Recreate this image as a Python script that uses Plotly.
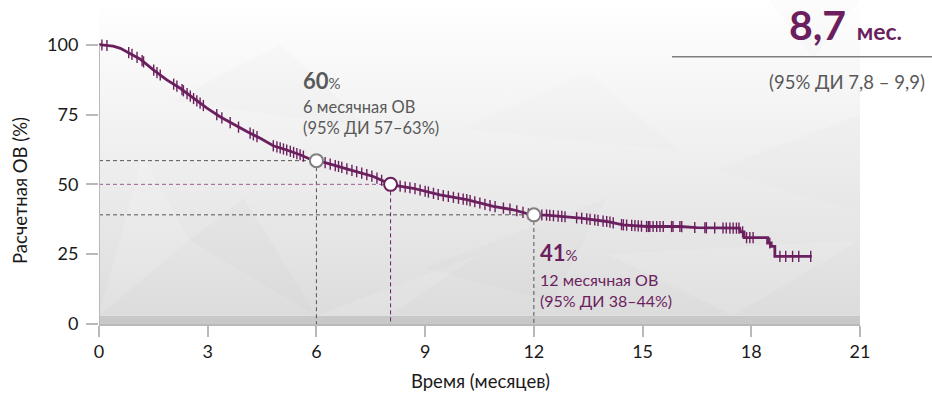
import numpy as np
import plotly.graph_objects as go

# Kaplan–Meier estimate of overall survival: time (months) and survival (%)
km_months = [0.0, 0.39, 0.59, 0.86, 1.14, 1.50, 1.87, 2.24, 2.60, 2.98,
             3.34, 3.70, 4.08, 4.45, 4.81, 5.18, 5.55, 5.83, 6.29, 6.93,
             7.57, 8.08, 8.67, 9.41, 10.15, 10.88, 11.43, 11.94, 12.35, 13.29,
             14.01, 14.46, 15.11, 16.03, 16.49, 17.68, 17.70, 17.80, 17.80, 18.45,
             18.45, 18.55, 18.55, 18.65, 18.65, 19.67]
km_survival = [100.0, 99.5, 98.7, 96.9, 94.8, 91.0, 87.4, 84.4, 80.8, 77.3,
               74.2, 71.5, 68.9, 66.5, 63.8, 62.3, 60.6, 59.0, 57.6, 55.2,
               52.8, 49.8, 48.6, 46.2, 44.5, 42.1, 40.9, 39.1, 39.0, 37.9,
               36.7, 35.5, 34.9, 34.9, 34.5, 34.3, 33.0, 33.0, 30.9, 30.9,
               29.0, 29.0, 27.8, 27.8, 24.2, 24.2]

# Censored observations (months)
censor_months = [0.08, 0.22, 0.82, 0.91, 1.05, 1.19, 1.23, 1.51, 1.60, 1.69,
                 2.06, 2.15, 2.29, 2.33, 2.43, 2.52, 2.61, 2.70, 2.79, 2.88,
                 3.25, 3.39, 3.62, 3.85, 4.17, 4.26, 4.36, 4.81, 4.91, 5.00,
                 5.09, 5.18, 5.28, 5.37, 5.46, 5.55, 5.64, 6.10, 6.24, 6.38,
                 6.52, 6.61, 6.70, 6.84, 6.98, 7.11, 7.25, 7.39, 7.53, 7.67,
                 7.80, 8.31, 8.45, 8.58, 8.72, 8.86, 9.00, 9.09, 9.23, 9.36,
                 9.50, 9.64, 9.78, 9.92, 10.05, 10.15, 10.24, 10.37, 10.51, 10.65,
                 10.79, 10.93, 11.16, 11.34, 11.53, 11.70, 11.85, 12.08, 12.22, 12.35,
                 12.44, 12.54, 12.67, 12.77, 12.86, 13.18, 13.32, 13.46, 13.55, 13.68,
                 13.77, 13.91, 14.01, 14.10, 14.19, 14.42, 14.47, 14.56, 14.70, 14.79,
                 14.88, 14.97, 15.11, 15.16, 15.20, 15.29, 15.39, 15.48, 15.57, 15.80,
                 15.84, 16.03, 16.08, 16.44, 16.72, 16.76, 16.99, 17.22, 17.31, 17.41,
                 17.50, 17.59, 17.66, 17.76, 17.87, 17.96, 18.05, 18.51, 18.79, 18.95,
                 19.14, 19.31, 19.64]

# Landmark time points (months)
landmark_months = [6, 12]

x_ticks = [0, 3, 6, 9, 12, 15, 18, 21]
y_ticks = [0, 25, 50, 75, 100]

PURPLE = "#6b1f5e"
GREY_TXT = "#595959"
AXIS_GREY = "#b9b9b9"
FONT = "Lato"

W, H = 932, 395
ML, MR, MT, MB = 99, 72, 0, 71
PW, PH = W - ML - MR, H - MT - MB
Y_TOP = 116


def px(x):
    return (x - ML) / PW


def py(y):
    return (H - MB - y) / PH


t = np.asarray(km_months)
s = np.asarray(km_survival)


def surv_at(m):
    return float(np.interp(m, t, s))


landmark_surv = [surv_at(m) for m in landmark_months]
# Median: first time the curve reaches 50 %
idx = int(np.argmax(s <= 50))
median_month = float(np.interp(50, [s[idx], s[idx - 1]], [t[idx], t[idx - 1]]))

censor_y = [surv_at(m) for m in censor_months]

fig = go.Figure()

# Plot background: light vertical gradient
fig.add_trace(go.Scatter(
    x=[0, 21, 21, 0, 0], y=[3.0, 3.0, Y_TOP, Y_TOP, 3.0],
    mode="lines", fill="toself", line=dict(width=0),
    fillgradient=dict(type="vertical",
                      colorscale=[[0, "#dcdcdc"], [0.45, "#ededed"], [1, "#ffffff"]]),
    hoverinfo="skip", showlegend=False))

# Faint faceted pattern over the background
facets = [
    ([0, 2.5, 1.2], [3, 30, 60], "rgba(255,255,255,0.14)"),
    ([2.5, 6.0, 4.0], [30, 3, 45], "rgba(190,190,190,0.07)"),
    ([6.0, 10.5, 8.0], [3, 25, 3], "rgba(255,255,255,0.12)"),
    ([9.0, 14.0, 12.5], [20, 45, 8], "rgba(195,195,195,0.06)"),
    ([14.0, 17.5, 21.0], [25, 3, 30], "rgba(255,255,255,0.12)"),
    ([17.0, 21.0, 21.0], [55, 40, 75], "rgba(200,200,200,0.06)"),
    ([2.0, 5.0, 7.5], [80, 100, 70], "rgba(205,205,205,0.05)"),
    ([10.0, 13.5, 16.0], [70, 90, 62], "rgba(210,210,210,0.05)"),
    ([18.5, 19.7, 21.0], [116, 95, 116], "rgba(205,205,205,0.06)"),
]
for fx, fy, fc in facets:
    fig.add_trace(go.Scatter(x=fx + [fx[0]], y=fy + [fy[0]], mode="lines",
                             fill="toself", fillcolor=fc, line=dict(width=0),
                             hoverinfo="skip", showlegend=False))

# Guide lines for the landmarks and the median
for m, v in zip(landmark_months, landmark_surv):
    fig.add_trace(go.Scatter(x=[0, m, m], y=[v, v, 0], mode="lines",
                             line=dict(color="#555555", width=1, dash="4px,3px"),
                             hoverinfo="skip", showlegend=False))
fig.add_trace(go.Scatter(x=[0, median_month], y=[50, 50], mode="lines",
                         line=dict(color="#9a5c8c", width=1, dash="4px,3px"),
                         hoverinfo="skip", showlegend=False))
fig.add_trace(go.Scatter(x=[median_month, median_month], y=[50, 0], mode="lines",
                         line=dict(color=PURPLE, width=1, dash="4px,3px"),
                         hoverinfo="skip", showlegend=False))

# Survival curve
fig.add_trace(go.Scatter(x=km_months, y=km_survival, mode="lines",
                         line=dict(color=PURPLE, width=2.8),
                         hoverinfo="skip", showlegend=False))
# Censor marks
fig.add_trace(go.Scatter(x=censor_months, y=censor_y, mode="markers",
                         marker=dict(symbol="line-ns", size=8,
                                     line=dict(color=PURPLE, width=1.4)),
                         hoverinfo="skip", showlegend=False))

# Landmark and median circles
fig.add_trace(go.Scatter(x=landmark_months, y=landmark_surv, mode="markers",
                         marker=dict(size=13, color="white",
                                     line=dict(color="#808080", width=2)),
                         hoverinfo="skip", showlegend=False))
fig.add_trace(go.Scatter(x=[median_month], y=[50], mode="markers",
                         marker=dict(size=13, color="white",
                                     line=dict(color=PURPLE, width=2)),
                         hoverinfo="skip", showlegend=False))

shapes = [
    # darker strip along the time axis
    dict(type="rect", xref="x", yref="y", x0=0, x1=21, y0=0, y1=3.0,
         fillcolor="#c8c8c8", line=dict(width=0), layer="below"),
    # survival axis line
    dict(type="line", xref="x", yref="y", x0=0, x1=0, y0=0, y1=100,
         line=dict(color=AXIS_GREY, width=2), layer="above"),
    # rule under the median headline
    dict(type="line", xref="paper", yref="paper", x0=px(672), x1=px(932),
         y0=py(56.7), y1=py(56.7), line=dict(color="#7f7f7f", width=1.5)),
]


def note(x, y, text, color, size, xanchor="left", angle=0):
    return dict(xref="paper", yref="paper", x=px(x), y=py(y), text=text,
                showarrow=False, xanchor=xanchor, yanchor="middle",
                textangle=angle, font=dict(family=FONT, size=size, color=color))


annotations = [
    note(301, 80, "<b>60</b><span style='font-size:15px'>%</span>", GREY_TXT, 22),
    note(301, 107, "6 месячная ОВ", GREY_TXT, 16.5),
    note(301, 128, "(95% ДИ 57–63%)", GREY_TXT, 16.5),
    note(538, 252, "<b>41</b><span style='font-size:15px'>%</span>", PURPLE, 22),
    note(538, 279, "12 месячная ОВ", PURPLE, 16),
    note(538, 300, "(95% ДИ 38–44%)", PURPLE, 16),
    note(904, 24, "<b>8,7</b> <span style='font-size:23px'><b>мес.</b></span>",
         PURPLE, 41, xanchor="right"),
    note(927, 82, "(95% ДИ 7,8 – 9,9)", GREY_TXT, 18.5, xanchor="right"),
    note(20, 191, "Расчетная ОВ (%)", "#1a1a1a", 18.5, xanchor="center", angle=-90),
    note(480, 381, "Время (месяцев)", "#1a1a1a", 18.5, xanchor="center"),
]

fig.update_layout(
    width=W, height=H, autosize=False,
    margin=dict(l=ML, r=MR, t=MT, b=MB, pad=0),
    paper_bgcolor="white", plot_bgcolor="white",
    font=dict(family=FONT, size=16, color="#1a1a1a"),
    shapes=shapes, annotations=annotations, showlegend=False,
    xaxis=dict(range=[0, 21], tickvals=x_ticks, ticks="outside", ticklen=11,
               tickwidth=1.5, tickcolor=AXIS_GREY, showline=True, linecolor=AXIS_GREY,
               linewidth=1.5, showgrid=False, zeroline=False, fixedrange=True,
               tickfont=dict(family=FONT, size=18, color="#1a1a1a")),
    yaxis=dict(range=[0, Y_TOP], tickvals=y_ticks, ticks="outside", ticklen=12,
               tickwidth=1.5, tickcolor=AXIS_GREY, showline=False, showgrid=False,
               zeroline=False, fixedrange=True, ticklabelstandoff=4,
               tickfont=dict(family=FONT, size=18, color="#1a1a1a")),
)

fig.write_html("out.html")
